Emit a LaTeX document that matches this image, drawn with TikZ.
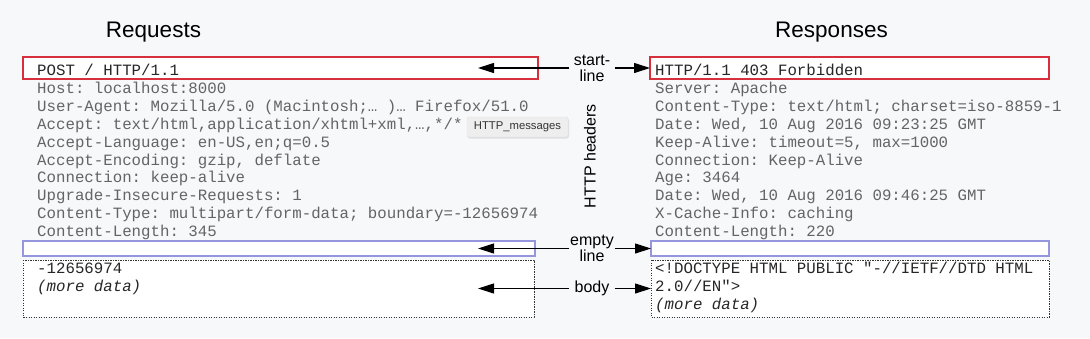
\documentclass[tikz,border=0pt]{standalone}
\usepackage{fontspec}
\setmainfont{Liberation Sans}
\setmonofont{Liberation Mono}
\usetikzlibrary{arrows.meta}
\definecolor{bgcol}{RGB}{247,248,250}
\definecolor{boxred}{RGB}{214,48,60}
\definecolor{boxblue}{RGB}{150,150,222}
\definecolor{hdrgray}{RGB}{100,100,100}
\definecolor{tipgray}{RGB}{238,238,239}
\definecolor{tipshade}{RGB}{222,223,226}
\newcommand\msgfont{\ttfamily\fontsize{15.75}{18}\selectfont}
\newcommand\lblfont{\fontsize{16}{16}\selectfont}
\newcommand\ttlfont{\fontsize{22.5}{24}\selectfont}

\begin{document}
\begin{tikzpicture}[x=1pt,y=-1pt,
    hdr/.style={anchor=base west,inner sep=0pt,font=\msgfont,text=hdrgray},
    first/.style={hdr,text=black!85},
    msgbox/.style={anchor=north west,inner sep=0pt,outer sep=0pt,fill=white},
    redline/.style={draw=boxred,line width=1.1pt},
    blueline/.style={draw=boxblue,line width=1.1pt},
    dotline/.style={draw=black!80,line width=0.9pt,dash pattern=on 1.2pt off 1.3pt},
    lbl/.style={font=\lblfont,align=center,minimum width=45,inner sep=0pt},
    arr/.style={-{Triangle[length=16pt,width=10pt]},line width=1.1pt}]
  \fill[bgcol] (0,0) rectangle (1090,338);
  \useasboundingbox (0,0) rectangle (1090,338);

  \node[font=\ttlfont,anchor=base] (reqtitle) at (153.5,37.5) {Requests};
  \node[font=\ttlfont,anchor=base] (restitle) at (831.5,37.5) {Responses};

  \node[msgbox,minimum width=515,minimum height=22] (reqstart) at (23,57) {};
  \node[msgbox,minimum width=512,minimum height=15] (reqempty) at (23,241) {};
  \node[msgbox,minimum width=511,minimum height=57] (reqbody) at (23,260) {};
  \node[msgbox,minimum width=399,minimum height=22] (resstart) at (650,57) {};
  \node[msgbox,minimum width=398,minimum height=15] (resempty) at (651,241) {};
  \node[msgbox,minimum width=398,minimum height=57] (resbody) at (651,260) {};
  \foreach \b/\s in {reqstart/redline, resstart/redline, reqempty/blueline,
      resempty/blueline, reqbody/dotline, resbody/dotline}
    {\draw[\s] (\b.north west) rectangle (\b.south east);}

  \node[first] (req0) at (37,75.5) {POST / HTTP/1.1};
  \foreach \hd [count=\i] in {{Host: localhost:8000},
      {User-Agent: Mozilla/5.0 (Macintosh;… )… Firefox/51.0},
      {Accept: text/html,application/xhtml+xml,…,*/*},
      {Accept-Language: en-US,en;q=0.5},
      {Accept-Encoding: gzip, deflate},
      {Connection: keep-alive},
      {Upgrade-Insecure-Requests: 1},
      {Content-Type: multipart/form-data; boundary=-12656974},
      {Content-Length: 345}}
    {\node[hdr] (req\i) at (37,75.5+17.9*\i) {\hd};}
  \node[first] (reqb1) at (37,273.5) {-12656974};
  \node[first] (reqb2) at (37,291.5) {\itshape (more data)};

  \node[first] (res0) at (655,75.5) {HTTP/1.1 403 Forbidden};
  \foreach \hd [count=\i] in {{Server: Apache},
      {Content-Type: text/html; charset=iso-8859-1},
      {Date: Wed, 10 Aug 2016 09:23:25 GMT},
      {Keep-Alive: timeout=5, max=1000},
      {Connection: Keep-Alive},
      {Age: 3464},
      {Date: Wed, 10 Aug 2016 09:46:25 GMT},
      {X-Cache-Info: caching},
      {Content-Length: 220}}
    {\node[hdr] (res\i) at (655,75.5+17.9*\i) {\hd};}
  \node[first] (resb1) at (655,273.5) {<!DOCTYPE HTML PUBLIC "-//IETF//DTD HTML};
  \node[first] (resb2) at (655,291.5) {2.0//EN">};
  \node[first] (resb3) at (655,309.5) {\itshape (more data)};

  \fill[tipshade,rounded corners=2.5pt] (467.5,118) rectangle (569,138.5);
  \node[fill=tipgray,draw=black!12,rounded corners=2pt,
    minimum width=101,minimum height=20,inner sep=0pt,
    font=\fontsize{11.3}{12}\selectfont,text=black!80] (tooltip) at (517.5,127) {HTTP\_messages};

  \node[lbl] (startlbl) at (592,68) {start-\\line};
  \node[lbl] (emptylbl) at (592,248.5) {empty\\line};
  \node[lbl] (bodylbl) at (592,288.5) {body};
  \node[lbl,rotate=90] (hdrlbl) at (590,156) {HTTP headers};

  \coordinate (starttip) at (478,68);
  \coordinate (emptytip) at (478,248.5);
  \coordinate (bodytip) at (478,288.5);
  \draw[arr] (startlbl) -- (starttip);
  \draw[arr] (startlbl) -- (resstart);
  \draw[arr] (emptylbl) -- (emptytip);
  \draw[arr] (emptylbl) -- (resempty);
  \draw[arr] (bodylbl) -- (bodytip);
  \draw[arr] (bodylbl) -- (resbody);
\end{tikzpicture}
\end{document}
